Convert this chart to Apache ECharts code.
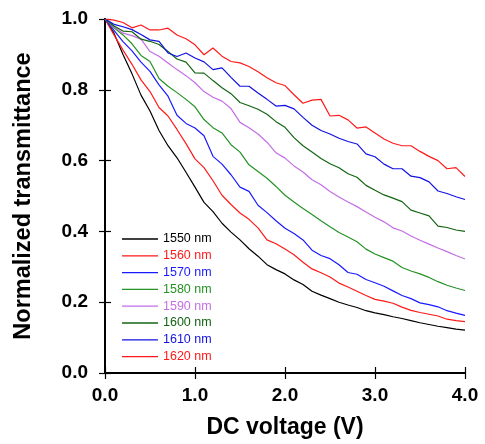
<!DOCTYPE html>
<html>
<head>
<meta charset="utf-8">
<script src="https://cdn.jsdelivr.net/npm/echarts@6/dist/echarts.min.js"></script>
<style>html,body{margin:0;padding:0;background:#fff}#c{width:485px;height:444px}</style>
</head>
<body>
<div id="c"></div>
<script>
const voltage = [0.0,0.1,0.2,0.3,0.4,0.5,0.6,0.7,0.8,0.9,1.0,1.1,1.2,1.3,1.4,1.5,1.6,1.7,1.8,1.9,2.0,2.1,2.2,2.3,2.4,2.5,2.6,2.7,2.8,2.9,3.0,3.1,3.2,3.3,3.4,3.5,3.6,3.7,3.8,3.9,4.0];
const seriesNames = ['1550 nm','1560 nm','1570 nm','1580 nm','1590 nm','1600 nm','1610 nm','1620 nm'];
const seriesColors = ['#000000','#ff1a1a','#1a1aff','#259225','#c46ee6','#136413','#1212e0','#ff1a1a'];
const t1550 = [1.0,0.96,0.9,0.845,0.785,0.74,0.685,0.642,0.608,0.567,0.525,0.482,0.456,0.423,0.398,0.376,0.351,0.33,0.306,0.292,0.28,0.263,0.25,0.231,0.22,0.21,0.2,0.192,0.185,0.176,0.17,0.165,0.159,0.154,0.148,0.142,0.137,0.132,0.128,0.124,0.121];
const t1560 = [1.0,0.955,0.912,0.872,0.828,0.795,0.75,0.726,0.688,0.648,0.605,0.58,0.543,0.502,0.476,0.452,0.434,0.41,0.376,0.365,0.35,0.334,0.313,0.294,0.283,0.271,0.254,0.243,0.231,0.219,0.208,0.203,0.197,0.186,0.177,0.171,0.166,0.161,0.152,0.148,0.145];
const t1570 = [1.0,0.968,0.936,0.91,0.878,0.852,0.814,0.782,0.728,0.705,0.692,0.67,0.612,0.59,0.56,0.525,0.513,0.474,0.453,0.43,0.409,0.394,0.376,0.347,0.332,0.323,0.306,0.284,0.279,0.264,0.255,0.245,0.232,0.219,0.21,0.198,0.193,0.187,0.176,0.169,0.163];
const t1580 = [1.0,0.975,0.955,0.93,0.897,0.88,0.832,0.81,0.792,0.773,0.752,0.716,0.693,0.678,0.645,0.624,0.588,0.569,0.55,0.527,0.502,0.483,0.465,0.448,0.43,0.413,0.397,0.384,0.371,0.35,0.336,0.326,0.316,0.298,0.288,0.28,0.27,0.258,0.248,0.24,0.233];
const t1590 = [1.0,0.978,0.96,0.953,0.943,0.908,0.895,0.876,0.857,0.84,0.82,0.795,0.779,0.768,0.747,0.708,0.693,0.675,0.652,0.622,0.607,0.585,0.568,0.546,0.532,0.513,0.497,0.483,0.47,0.455,0.44,0.427,0.41,0.401,0.387,0.375,0.364,0.353,0.343,0.332,0.322];
const t1600 = [1.0,0.98,0.966,0.964,0.943,0.937,0.928,0.908,0.887,0.878,0.848,0.847,0.826,0.806,0.789,0.764,0.755,0.745,0.731,0.71,0.694,0.665,0.642,0.624,0.606,0.591,0.58,0.563,0.553,0.53,0.516,0.503,0.494,0.484,0.46,0.452,0.444,0.415,0.411,0.404,0.40];
const t1610 = [1.0,0.985,0.978,0.97,0.956,0.941,0.937,0.904,0.894,0.904,0.89,0.879,0.857,0.862,0.835,0.81,0.81,0.791,0.773,0.754,0.756,0.746,0.722,0.70,0.685,0.675,0.663,0.654,0.647,0.619,0.611,0.59,0.577,0.577,0.556,0.552,0.54,0.514,0.507,0.498,0.49];
const t1620 = [1.0,0.997,0.99,0.975,0.983,0.969,0.969,0.974,0.955,0.944,0.927,0.899,0.918,0.895,0.88,0.876,0.866,0.851,0.834,0.82,0.812,0.786,0.762,0.771,0.773,0.726,0.728,0.715,0.692,0.695,0.678,0.661,0.649,0.642,0.642,0.626,0.612,0.6,0.577,0.58,0.555];
const allSeries = [t1550,t1560,t1570,t1580,t1590,t1600,t1610,t1620];

const FONT = "'Liberation Sans', Arial, sans-serif";
const chart = echarts.init(document.getElementById('c'), null, {renderer:'canvas'});

const axisLineStyle = {color:'#000', width:2};
const option = {
  animation:false,
  backgroundColor:'#fff',
  grid:{left:105, right:20, top:19, bottom:68, containLabel:false},
  legend:{
    orient:'vertical', left:122, top:232, padding:0,
    icon:'rect', itemWidth:36, itemHeight:1.3, itemGap:2.8,
    textStyle:{fontFamily:FONT, fontSize:12.5, lineHeight:14, padding:[0,0,0,0]},
    data: seriesNames.map((n,i)=>({name:n, textStyle:{color:seriesColors[i]}}))
  },
  xAxis:[
    {type:'value', min:0, max:4, interval:1, position:'bottom',
     name:'DC voltage (V)', nameLocation:'middle', nameGap:43,
     nameTextStyle:{fontFamily:FONT, fontWeight:'bold', fontSize:23, color:'#000'},
     axisLine:{show:true, lineStyle:axisLineStyle},
     axisTick:{show:true, inside:true, length:6, lineStyle:{color:'#000', width:1.2}},
     axisLabel:{fontFamily:FONT, fontWeight:'bold', fontSize:19, color:'#000', margin:13, formatter:v=>v.toFixed(1)},
     splitLine:{show:false}},
    {type:'value', min:0, max:4, interval:1, position:'top',
     axisLine:{show:true, lineStyle:axisLineStyle},
     axisTick:{show:true, inside:true, length:6, lineStyle:{color:'#000', width:1.2}},
     axisLabel:{show:false}, splitLine:{show:false}}
  ],
  yAxis:[
    {type:'value', min:0, max:1, interval:0.2, position:'left',
     name:'Normalized transmittance', nameLocation:'middle', nameGap:69, nameRotate:90,
     nameTextStyle:{fontFamily:FONT, fontWeight:'bold', fontSize:23.5, color:'#000'},
     axisLine:{show:true, lineStyle:axisLineStyle},
     axisTick:{show:true, inside:true, length:6, lineStyle:{color:'#000', width:1.2}},
     axisLabel:{fontFamily:FONT, fontWeight:'bold', fontSize:19, color:'#000', margin:17, formatter:v=>v.toFixed(1)},
     splitLine:{show:false}},
    {type:'value', min:0, max:1, interval:0.2, position:'right',
     axisLine:{show:true, lineStyle:axisLineStyle},
     axisTick:{show:true, inside:true, length:6, lineStyle:{color:'#000', width:1.2}},
     axisLabel:{show:false}, splitLine:{show:false}}
  ],
  series: seriesNames.map((n,i)=>({
    name:n, type:'line', xAxisIndex:0, yAxisIndex:0,
    symbol:'none', showSymbol:false, smooth:false,
    lineStyle:{color:seriesColors[i], width:1.2},
    itemStyle:{color:seriesColors[i]},
    data: voltage.map((v,k)=>[v, allSeries[i][k]])
  }))
};
chart.setOption(option);
</script>
</body>
</html>
